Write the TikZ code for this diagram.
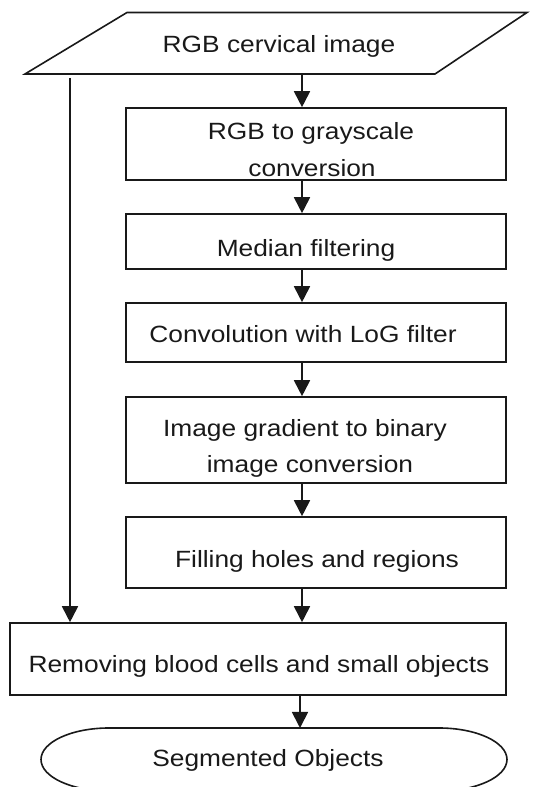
\documentclass[tikz,border=0pt]{standalone}
\usepackage{fontspec}
\setmainfont{Liberation Sans}[FakeStretch=1.12]
\usetikzlibrary{arrows.meta}
\begin{document}
\begin{tikzpicture}[x=1pt,y=1pt,
  line width=1.6pt, color=black!90,
  boxnode/.style={draw, rectangle, minimum width=380pt, inner sep=0pt},
  txt/.style={anchor=base, inner sep=0pt, font=\fontsize{23.5}{28}\selectfont},
  arr/.style={line width=1.8pt, -{Triangle[length=16pt,width=16pt]}}]
\useasboundingbox (0,0) rectangle (537,787);
% input parallelogram
\draw (127,774.5) -- (527,774.5) -- (435,713) -- (25,713) -- cycle;
\node[txt] (tin) at (279,734) {RGB cervical image};
\coordinate (inb) at (302,713);
\coordinate (inl) at (70,709);
\coordinate (ax) at (302,0);
% boxes
\node[boxnode, minimum height=72pt] (b1) at (316,643) {};
\node[txt] (t1a) at (311,647) {RGB to grayscale};
\node[txt] (t1b) at (312,610) {conversion};
\node[boxnode, minimum height=55pt] (b2) at (316,545.5) {};
\node[txt] (t2) at (306,530) {Median filtering};
\node[boxnode, minimum height=59pt] (b3) at (316,454.5) {};
\node[txt] (t3) at (303,444) {Convolution with LoG filter};
\node[boxnode, minimum height=86pt] (b4) at (316,347) {};
\node[txt] (t4a) at (305,350) {Image gradient to binary};
\node[txt] (t4b) at (310,314) {image conversion};
\node[boxnode, minimum height=71pt] (b5) at (316,234.5) {};
\node[txt] (t5) at (317,219) {Filling holes and regions};
\node[boxnode, minimum height=72pt, minimum width=496pt] (b6) at (258,128) {};
\node[txt] (t6) at (259,114) {Removing blood cells and small objects};
% terminal
\begin{scope}
\clip (0,0) rectangle (537,787);
\draw (109,59) -- (439,59) arc[start angle=90,end angle=-90,x radius=68,y radius=31.5]
  -- (109,-4) arc[start angle=270,end angle=90,x radius=68,y radius=31.5] -- cycle;
\end{scope}
\node[txt] (t7) at (268,20) {Segmented Objects};
\coordinate (segtop) at (300,59);
% connectors
\draw[arr] (inb) -- (b1.north -| ax);
\draw[arr] (b1.south -| ax) -- (b2.north -| ax);
\draw[arr] (b2.south -| ax) -- (b3.north -| ax);
\draw[arr] (b3.south -| ax) -- (b4.north -| ax);
\draw[arr] (b4.south -| ax) -- (b5.north -| ax);
\draw[arr] (b5.south -| ax) -- (b6.north -| ax);
\draw[arr] (inl) -- (b6.north -| inl);
\draw[arr] (b6.south -| segtop) -- (segtop);
\end{tikzpicture}
\end{document}
